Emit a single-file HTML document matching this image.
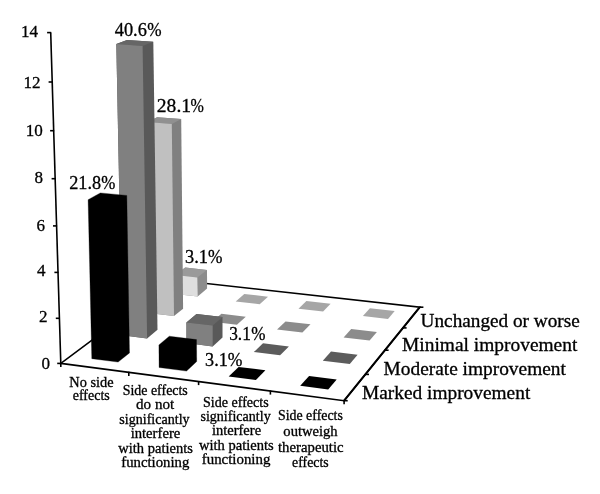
<!DOCTYPE html>
<html><head><meta charset="utf-8"><title>Chart</title>
<style>
html,body{margin:0;padding:0;background:#fff;}
body{width:600px;height:494px;overflow:hidden;}
svg{display:block;font-family:"Liberation Serif",serif;}
</style></head><body>
<svg width="600" height="494" viewBox="0 0 600 494">
<rect width="600" height="494" fill="#fff"/>
<g stroke="#000" stroke-width="1.6" stroke-linecap="butt" fill="none">
<polygon points="60.8,363.4 344.1,400.7 419.8,307.2 172.8,279.8" stroke-linejoin="miter"/>
<line x1="60.8" y1="363.4" x2="50.7" y2="32.6"/>
<line x1="344.1" y1="400.7" x2="419.8" y2="307.2" stroke-width="2"/>
<line x1="57.2" y1="363.4" x2="61.3" y2="363.4"/>
<line x1="55.8" y1="318.3" x2="59.9" y2="318.3"/>
<line x1="54.4" y1="272.4" x2="58.5" y2="272.4"/>
<line x1="53.0" y1="225.9" x2="57.1" y2="225.9"/>
<line x1="51.6" y1="178.7" x2="55.7" y2="178.7"/>
<line x1="50.1" y1="130.7" x2="54.2" y2="130.7"/>
<line x1="48.6" y1="82.0" x2="52.7" y2="82.0"/>
<line x1="47.1" y1="32.6" x2="51.2" y2="32.6"/>
<line x1="60.8" y1="362.9" x2="60.8" y2="367.0"/>
<line x1="128.8" y1="371.8" x2="128.8" y2="375.9"/>
<line x1="198.6" y1="381.0" x2="198.6" y2="385.1"/>
<line x1="270.4" y1="390.5" x2="270.4" y2="394.6"/>
<line x1="344.1" y1="400.2" x2="344.1" y2="404.3"/>
<line x1="343.6" y1="400.7" x2="347.7" y2="400.7"/>
<line x1="364.9" y1="374.4" x2="369.0" y2="374.4"/>
<line x1="384.5" y1="350.2" x2="388.6" y2="350.2"/>
<line x1="402.5" y1="327.9" x2="406.6" y2="327.9"/>
<line x1="419.3" y1="307.2" x2="423.4" y2="307.2"/>
</g>
<polygon points="362.9,316.1 388.0,319.0 394.7,311.1 369.9,308.3" fill="#a6a6a6"/>
<polygon points="298.5,308.7 323.1,311.5 330.6,303.8 306.4,301.1" fill="#a6a6a6"/>
<polygon points="235.7,301.5 259.7,304.2 268.0,296.7 244.3,294.0" fill="#a6a6a6"/>
<polygon points="175.4,293.9 197.7,296.5 207.1,288.4 207.0,269.9 185.2,267.5 175.2,274.9" fill="#8c8c8c"/>
<polygon points="175.2,274.9 197.3,277.4 207.0,269.9 185.2,267.5" fill="#9a9a9a"/>
<polygon points="175.4,293.9 197.7,296.5 197.3,277.4 175.2,274.9" fill="#dedede"/>
<polygon points="343.6,337.5 369.6,340.6 376.9,332.1 351.2,329.1" fill="#8c8c8c"/>
<polygon points="277.0,329.6 302.4,332.6 310.5,324.3 285.5,321.4" fill="#8c8c8c"/>
<polygon points="212.1,321.8 236.9,324.7 245.8,316.7 221.4,313.8" fill="#8c8c8c"/>
<polygon points="150.5,313.3 174.0,316.0 183.1,308.7 181.2,119.1 157.1,117.2 147.7,121.9" fill="#808080"/>
<polygon points="147.7,121.9 171.8,123.9 181.2,119.1 157.1,117.2" fill="#909090"/>
<polygon points="150.5,313.3 174.0,316.0 171.8,123.9 147.7,121.9" fill="#c0c0c0"/>
<polygon points="322.8,360.7 349.8,364.0 357.6,354.8 331.0,351.6" fill="#5c5c5c"/>
<polygon points="253.8,352.1 280.1,355.3 288.9,346.4 263.0,343.2" fill="#5c5c5c"/>
<polygon points="186.5,343.1 212.7,346.4 222.5,337.6 222.5,317.1 196.5,314.0 186.4,322.4" fill="#595959"/>
<polygon points="186.4,322.4 212.7,325.6 222.5,317.1 196.5,314.0" fill="#666666"/>
<polygon points="186.5,343.1 212.7,346.4 212.7,325.6 186.4,322.4" fill="#808080"/>
<polygon points="122.1,335.2 147.1,338.4 157.5,329.7 153.3,41.8 127.0,40.0 116.3,44.0" fill="#595959"/>
<polygon points="116.3,44.0 142.6,46.0 153.3,41.8 127.0,40.0" fill="#666666"/>
<polygon points="122.1,335.2 147.1,338.4 142.6,46.0 116.3,44.0" fill="#808080"/>
<polygon points="300.2,385.8 328.2,389.4 336.7,379.4 309.1,375.9" fill="#000"/>
<polygon points="228.7,376.5 255.9,380.0 265.4,370.3 238.6,366.9" fill="#000"/>
<polygon points="159.1,367.5 186.6,371.1 196.7,361.5 196.5,339.6 169.3,336.2 158.9,344.9" fill="#000" stroke="#000" stroke-width="0.3" stroke-linejoin="round"/>
<polygon points="91.8,358.7 118.1,362.1 129.5,352.9 126.8,195.4 100.3,192.9 88.1,199.7" fill="#000" stroke="#000" stroke-width="0.3" stroke-linejoin="round"/>
<g fill="#000" stroke="#000" stroke-width="0.3">
<text y="36.30" font-size="18.3"><tspan x="114.75" textLength="32.13" lengthAdjust="spacingAndGlyphs">40.6</tspan><tspan x="147.13" textLength="14.33" lengthAdjust="spacingAndGlyphs">%</tspan></text>
<text y="111.80" font-size="18.3"><tspan x="156.83" textLength="34.24" lengthAdjust="spacingAndGlyphs">28.1</tspan><tspan x="190.56" textLength="13.36" lengthAdjust="spacingAndGlyphs">%</tspan></text>
<text y="189.20" font-size="18.3"><tspan x="69.18" textLength="31.95" lengthAdjust="spacingAndGlyphs">21.8</tspan><tspan x="101.34" textLength="14.11" lengthAdjust="spacingAndGlyphs">%</tspan></text>
<text y="263.00" font-size="18.3"><tspan x="185.05" textLength="22.94" lengthAdjust="spacingAndGlyphs">3.1</tspan><tspan x="208.03" textLength="14.43" lengthAdjust="spacingAndGlyphs">%</tspan></text>
<text y="340.00" font-size="18.3"><tspan x="229.19" textLength="21.64" lengthAdjust="spacingAndGlyphs">3.1</tspan><tspan x="251.13" textLength="14.22" lengthAdjust="spacingAndGlyphs">%</tspan></text>
<text y="366.00" font-size="18.3"><tspan x="205.05" textLength="22.72" lengthAdjust="spacingAndGlyphs">3.1</tspan><tspan x="227.82" textLength="14.65" lengthAdjust="spacingAndGlyphs">%</tspan></text>
<text x="20.99" y="36.70" font-size="17.7" textLength="17.07" lengthAdjust="spacingAndGlyphs">14</text>
<text x="23.52" y="87.70" font-size="17.7" textLength="17.07" lengthAdjust="spacingAndGlyphs">12</text>
<text x="25.67" y="135.70" font-size="17.7" textLength="17.07" lengthAdjust="spacingAndGlyphs">10</text>
<text x="34.52" y="183.20" font-size="17.7" textLength="8.53" lengthAdjust="spacingAndGlyphs">8</text>
<text x="36.40" y="230.90" font-size="17.7" textLength="8.53" lengthAdjust="spacingAndGlyphs">6</text>
<text x="36.96" y="275.70" font-size="17.7" textLength="8.53" lengthAdjust="spacingAndGlyphs">4</text>
<text x="38.98" y="322.10" font-size="17.7" textLength="8.53" lengthAdjust="spacingAndGlyphs">2</text>
<text x="41.62" y="369.30" font-size="17.7" textLength="8.53" lengthAdjust="spacingAndGlyphs">0</text>
<text x="420.64" y="327.40" font-size="18.2" textLength="159.09" lengthAdjust="spacingAndGlyphs">Unchanged or worse</text>
<text x="402.10" y="351.30" font-size="18.2" textLength="175.22" lengthAdjust="spacingAndGlyphs">Minimal improvement</text>
<text x="383.60" y="375.00" font-size="18.2" textLength="182.27" lengthAdjust="spacingAndGlyphs">Moderate improvement</text>
<text x="362.00" y="398.60" font-size="18.2" textLength="168.27" lengthAdjust="spacingAndGlyphs">Marked improvement</text>
<text x="69.34" y="386.70" font-size="13.7" textLength="44.21" lengthAdjust="spacingAndGlyphs">No side</text>
<text x="72.72" y="400.00" font-size="13.7" textLength="37.05" lengthAdjust="spacingAndGlyphs">effects</text>
<text x="122.74" y="394.90" font-size="13.7" textLength="65.03" lengthAdjust="spacingAndGlyphs">Side effects</text>
<text x="136.09" y="409.40" font-size="13.7" textLength="38.10" lengthAdjust="spacingAndGlyphs">do not</text>
<text x="119.31" y="423.90" font-size="13.7" textLength="70.32" lengthAdjust="spacingAndGlyphs">significantly</text>
<text x="130.67" y="438.40" font-size="13.7" textLength="49.62" lengthAdjust="spacingAndGlyphs">interfere</text>
<text x="118.33" y="452.90" font-size="13.7" textLength="74.53" lengthAdjust="spacingAndGlyphs">with patients</text>
<text x="121.23" y="467.40" font-size="13.7" textLength="68.09" lengthAdjust="spacingAndGlyphs">functioning</text>
<text x="203.03" y="406.60" font-size="13.7" textLength="65.64" lengthAdjust="spacingAndGlyphs">Side effects</text>
<text x="200.41" y="420.95" font-size="13.7" textLength="70.32" lengthAdjust="spacingAndGlyphs">significantly</text>
<text x="211.97" y="435.30" font-size="13.7" textLength="49.11" lengthAdjust="spacingAndGlyphs">interfere</text>
<text x="198.93" y="449.65" font-size="13.7" textLength="74.73" lengthAdjust="spacingAndGlyphs">with patients</text>
<text x="201.73" y="464.00" font-size="13.7" textLength="68.69" lengthAdjust="spacingAndGlyphs">functioning</text>
<text x="277.99" y="420.20" font-size="13.7" textLength="64.87" lengthAdjust="spacingAndGlyphs">Side effects</text>
<text x="283.35" y="435.87" font-size="13.7" textLength="54.23" lengthAdjust="spacingAndGlyphs">outweigh</text>
<text x="278.00" y="451.54" font-size="13.7" textLength="65.59" lengthAdjust="spacingAndGlyphs">therapeutic</text>
<text x="292.12" y="467.21" font-size="13.7" textLength="36.49" lengthAdjust="spacingAndGlyphs">effects</text>
</g>
</svg>
</body></html>
